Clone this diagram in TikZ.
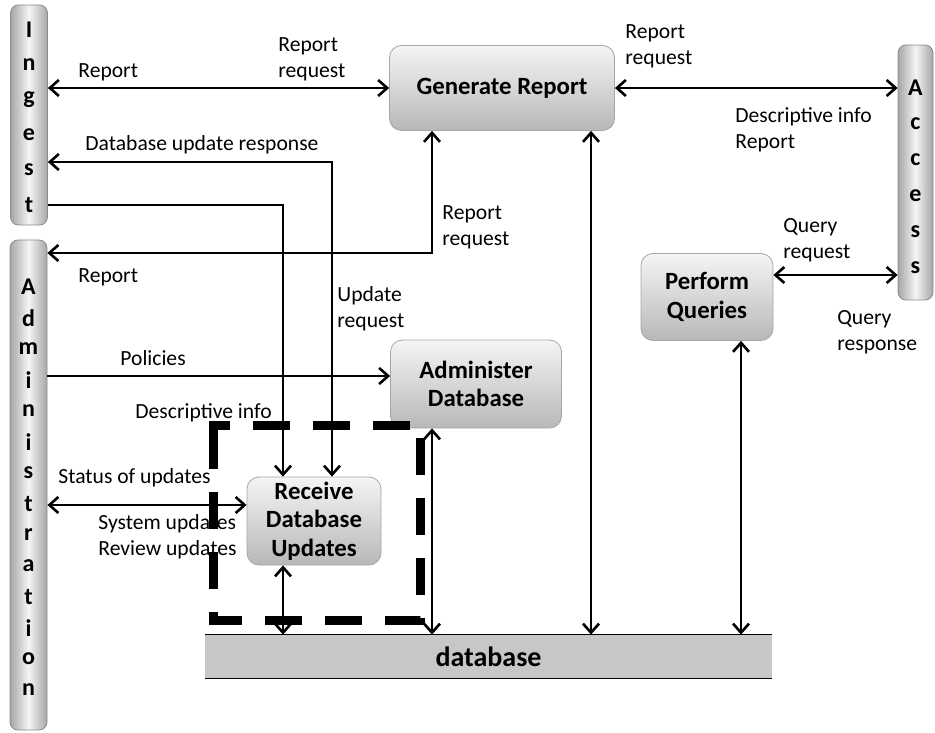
\documentclass[tikz,border=0pt]{standalone}
\usepackage{fontspec}
\setmainfont{Carlito}
\usetikzlibrary{arrows.meta}

\begin{document}
\begin{tikzpicture}[
    x=0.5pt, y=-0.5pt,
    >={Straight Barb[length=4.5pt,width=8pt]},
    proc/.style={draw=black!35, rounded corners=6pt, top color=black!4, bottom color=black!28,
                 align=center, font=\bfseries\fontsize{12.4}{14.3}\selectfont, inner sep=2pt},
    bar/.style={draw=black!45, rounded corners=4pt, left color=black!35, right color=black!35,
                middle color=black!4, minimum width=18.5pt},
    barletter/.style={font=\bfseries\fontsize{12}{13}\selectfont, inner sep=0pt},
    dbbar/.style={fill=black!22, font=\bfseries\fontsize{14}{16}\selectfont,
                  minimum width=283.5pt, minimum height=21.5pt},
    lbl/.style={anchor=west, align=left, inner sep=0pt, font=\fontsize{10.8}{13}\selectfont},
    flow/.style={line width=1.3pt}
]
    \useasboundingbox (0,0) rectangle (935,732);

    % outside parties
    \node[bar, minimum height=110pt] (ingest) at (29,115) {};
    \foreach \ch [count=\i from 0] in {I,n,g,e,s,t}
        \node[barletter] (ingest-\i) at (29,30+35*\i) {\ch};
    \node[bar, minimum height=245pt] (admin) at (28.5,485) {};
    \foreach \ch [count=\i from 0] in {A,d,m,i,n,i,s,t,r,a,t,i,o,n}
        \node[barletter] (admin-\i) at (28.5,287+31*\i) {\ch};
    \node[bar, minimum width=17.5pt, minimum height=127.5pt] (access) at (915.5,172.5) {};
    \foreach \ch [count=\i from 0] in {A,c,c,e,s,s}
        \node[barletter] (access-\i) at (915.5,88+36*\i) {\ch};

    % processes
    \node[proc, minimum width=112.5pt, minimum height=42.5pt] (gen) at (502,88) {Generate Report};
    \node[proc, minimum width=66pt, minimum height=43.5pt] (pq) at (707,297) {Perform\\Queries};
    \node[proc, minimum width=85.5pt, minimum height=44pt] (adm) at (476,384) {Administer\\Database};
    \node[proc, minimum width=67pt, minimum height=44pt] (recv) at (314,521) {Receive\\Database\\Updates};

    % data store
    \node[dbbar] (db) at (488.5,656.5) {database};
    \draw[line width=0.8pt] (db.north west) -- (db.north east) (db.south west) -- (db.south east);

    % flows
    \draw[flow,<->] (gen.west -| ingest.east) -- (gen.west);
    \draw[flow,<->] (332,0 |- recv.north) |- (ingest.east |- 0,162);
    \draw[flow,->] (ingest.east |- 0,205) -| (283,0 |- recv.north);
    \draw[flow,<->] (432,0 |- gen.south) |- (admin.east |- 0,253);
    \draw[flow,->] (admin.east |- 0,376) -- (adm.west |- 0,376);
    \draw[flow,<->] (admin.east |- 0,505) -- (recv.west |- 0,505);
    \draw[flow,<->] (283,0 |- recv.south) -- (283,0 |- db.north);
    \draw[flow,<->] (432,0 |- adm.south) -- (432,0 |- db.north);
    \draw[flow,<->] (591,0 |- gen.south) -- (591,0 |- db.north);
    \draw[flow,<->] (741,0 |- pq.south) -- (741,0 |- db.north);
    \draw[flow,<->] (gen.east) -- (gen.east -| access.west);
    \draw[flow,<->] (pq.east |- 0,275) -- (access.west |- 0,275);

    % flow labels
    \node[lbl] (l-rep1) at (78,72) {Report};
    \node[lbl] (l-req1) at (278,59) {Report\\request};
    \node[lbl] (l-dbresp) at (85,145) {Database update response};
    \node[lbl] (l-req2) at (442,227) {Report\\request};
    \node[lbl] (l-rep2) at (78,277) {Report};
    \node[lbl] (l-upd) at (337,309) {Update\\request};
    \node[lbl] (l-pol) at (120,358) {Policies};
    \node[lbl] (l-desc1) at (135,413) {Descriptive info};
    \node[lbl] (l-stat) at (58,478) {Status of updates};
    \node[lbl] (l-sys) at (98,537) {System updates\\Review updates};
    \node[lbl] (l-req3) at (625,46) {Report\\request};
    \node[lbl] (l-desc2) at (735,130) {Descriptive info\\Report};
    \node[lbl] (l-qreq) at (783,240) {Query\\request};
    \node[lbl] (l-qresp) at (837,332) {Query\\response};

    % boundary of the update process
    \draw[line width=4.5pt, dash pattern=on 18.5pt off 11.5pt]
        (213,445) -- (213,425) -- (420,425) -- (420,620) -- (213,620) -- cycle;
\end{tikzpicture}
\end{document}
